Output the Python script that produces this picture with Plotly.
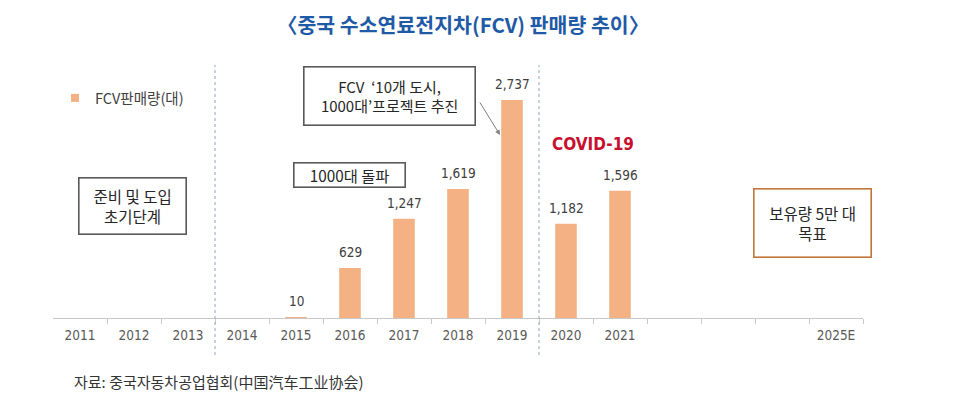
import plotly.graph_objects as go

# ---- data ----
years = [2011, 2012, 2013, 2014, 2015, 2016, 2017, 2018, 2019, 2020, 2021, 2022, 2023, 2024, 2025]
tick_labels = ["2011", "2012", "2013", "2014", "2015", "2016", "2017", "2018", "2019",
               "2020", "2021", "", "", "", "2025E"]
sale_years = [2015, 2016, 2017, 2018, 2019, 2020, 2021]
sales = [10, 629, 1247, 1619, 2737, 1182, 1596]
series_name = "FCV판매량(대)"
title_text = "〈중국 수소연료전지차(FCV) 판매량 추이〉"
source_text = "자료: 중국자동차공업협회(中国汽车工业协会)"

# page geometry (the page body has an 8px margin)
PAGE_W, PAGE_H, OFF = 965, 394, 8
W, H = PAGE_W - OFF, PAGE_H - OFF
L, R, T, B = 53, 863, 65, 318  # plot area, page pixels


def px(x):
    return (x - L) / (R - L)


def py(y):
    return (B - y) / (B - T)


KR = "Noto Sans CJK KR, Noto Sans, sans-serif"
NARROW = "DejaVu Sans Condensed, Liberation Sans Narrow, Liberation Sans, sans-serif"
BAR_COLOR = "#F4B183"
AXIS_GREY = "#C8C8C8"

fig = go.Figure()
fig.add_trace(go.Bar(
    x=sale_years, y=sales, width=0.4, marker=dict(color=BAR_COLOR, line=dict(width=0)),
    showlegend=False, name=series_name, hoverinfo="x+y",
))
# legend entry with a small square symbol
fig.add_trace(go.Scatter(
    x=[None], y=[None], mode="markers", name=series_name,
    marker=dict(symbol="square", size=8, color=BAR_COLOR),
))

annotations = []
# value labels
for xv, yv in zip(sale_years, sales):
    annotations.append(dict(
        x=xv, y=yv, xref="x", yref="y", text=f"{yv:,}", showarrow=False,
        yanchor="bottom", yshift=6, font=dict(family=NARROW, size=13.5, color="#404040"),
    ))

# title
annotations.append(dict(
    x=px(463), y=py(8), xref="paper", yref="paper", text=f"<b>{title_text}</b>",
    showarrow=False, font=dict(family=KR, size=20.5, color="#1F5AA6"),
    xanchor="center", yanchor="top", borderpad=0,
))
# source
annotations.append(dict(
    x=px(72), y=py(382), xref="paper", yref="paper", text=source_text,
    showarrow=False, font=dict(family=KR, size=15, color="#333333"),
    xanchor="left", yanchor="middle",
))


def box(x0, x1, y0, y1, text, size, border="#595959"):
    annotations.append(dict(
        x=px((x0 + x1) / 2), y=py((y0 + y1) / 2), xref="paper", yref="paper",
        text=text, showarrow=False,
        width=x1 - x0 - 2, height=y1 - y0 - 2, align="center", valign="middle",
        bordercolor=border, borderwidth=1.6, borderpad=0, bgcolor="white",
        font=dict(family=KR, size=size, color="#262626"),
        xanchor="center", yanchor="middle",
    ))


box(78, 186, 177, 234, "준비 및 도입<br>초기단계", 15.5)
box(303, 475, 67, 126, "FCV  ‘10개 도시,<br>1000대’프로젝트 추진", 15)
box(293, 405, 162, 187, "1000대 돌파", 15.3)
box(753, 871, 189, 258, "보유량 5만 대<br>목표", 15.5, border="#C0763A")

# arrow (tail just right of the project box)
annotations.append(dict(
    x=px(500), y=py(135), xref="paper", yref="paper", text="", showarrow=True,
    ax=-21, ay=-34, axref="pixel", ayref="pixel", arrowhead=2, arrowsize=1,
    arrowwidth=1, arrowcolor="#7F7F7F",
))
# COVID-19
annotations.append(dict(
    x=px(592.5), y=py(144), xref="paper", yref="paper", text="<b>COVID-19</b>",
    showarrow=False, font=dict(family=NARROW, size=17, color="#C8102E"),
    xanchor="center", yanchor="middle",
))

shapes = []
for xb in [2013.5, 2019.5]:
    shapes.append(dict(
        type="line", xref="x", yref="paper", x0=xb, x1=xb, y0=py(355), y1=py(65),
        line=dict(color="#A3B4CA", width=1.2, dash="dot"),
    ))

fig.update_layout(
    width=W, height=H,
    margin=dict(l=L - OFF, r=PAGE_W - R, t=T - OFF, b=PAGE_H - B),
    paper_bgcolor="white", plot_bgcolor="white",
    showlegend=True,
    legend=dict(x=px(55), y=py(82), xanchor="left", yanchor="top",
                font=dict(family=KR, size=14.5, color="#404040"),
                bgcolor="rgba(0,0,0,0)", itemwidth=30),
    xaxis=dict(
        range=[2010.5, 2025.5], tickvals=years, ticktext=tick_labels,
        ticks="outside", ticklen=5, tickcolor="rgba(0,0,0,0)",
        showline=True, linecolor=AXIS_GREY, linewidth=1,
        showgrid=False, zeroline=False,
        tickfont=dict(family=NARROW, size=13.5, color="#595959"),
        fixedrange=True,
    ),
    xaxis2=dict(
        overlaying="x", anchor="y", side="bottom", matches="x",
        range=[2010.5, 2025.5], tickvals=[y + 0.5 for y in years],
        ticks="outside", ticklen=5, tickcolor=AXIS_GREY, tickwidth=1,
        showticklabels=False, showgrid=False, zeroline=False, showline=False,
    ),
    yaxis=dict(range=[0, 3175], visible=False, showgrid=False, fixedrange=True),
    annotations=annotations,
    shapes=shapes,
)
# make the tick axis exist
fig.add_trace(go.Scatter(x=[None], y=[None], xaxis="x2", showlegend=False, hoverinfo="skip"))

fig.write_html("out.html")
